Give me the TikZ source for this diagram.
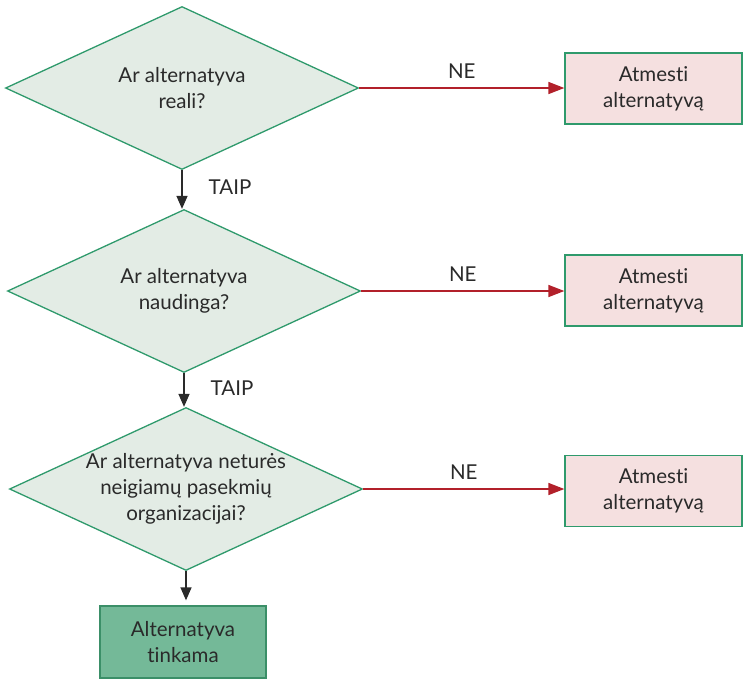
\documentclass[tikz,border=0pt]{standalone}
\usepackage{fontspec}
\setmainfont{Lato}[Ligatures=NoCommon]
\usetikzlibrary{shapes.geometric,arrows.meta}

\definecolor{qfill}{HTML}{E3ECE5}
\definecolor{edgegreen}{HTML}{2F9A6C}
\definecolor{rejfill}{HTML}{F5E0E0}
\definecolor{okfill}{HTML}{74B998}
\definecolor{okedge}{HTML}{3B8F68}
\definecolor{noline}{HTML}{B2202A}
\definecolor{ink}{HTML}{2A2A2A}

\tikzset{
  every node/.style={text=ink, font=\fontsize{20.5}{26}\selectfont},
  decision/.style={diamond, draw=edgegreen, fill=qfill, line width=1.3pt,
    minimum width=353pt, minimum height=163pt, inner sep=0pt, aspect=2.17},
  qtext/.style={align=center},
  reject/.style={rectangle, draw=edgegreen, fill=rejfill, line width=1.3pt,
    minimum width=177pt, minimum height=71pt, align=center, inner sep=0pt},
  accept/.style={rectangle, draw=okedge, fill=okfill, line width=1.3pt,
    minimum width=166pt, minimum height=72pt, align=center, inner sep=0pt},
  yesflow/.style={draw=ink, line width=1.4pt,
    -{Triangle[length=13pt,width=11pt]}},
  noflow/.style={draw=noline, line width=1.6pt,
    -{Triangle[length=16pt,width=12pt]}},
  flowlabel/.style={inner sep=0pt}
}

\begin{document}
\begin{tikzpicture}[x=1pt,y=-1pt]
  \useasboundingbox (0,0) rectangle (743,678);

  % decision diamonds
  \node[decision, label={[qtext]center:Ar alternatyva\\reali?}] (d1) at (182,88) {};
  \node[decision, label={[qtext]center:Ar alternatyva\\naudinga?}] (d2) at (184,291) {};
  \node[decision, label={[qtext]center:Ar alternatyva neturės\\neigiamų pasekmių\\organizacijai?}] (d3) at (186,489) {};

  % rejection boxes
  \node[reject] (r1) at (653.5,88.5) {Atmesti\\alternatyvą};
  \node[reject] (r2) at (653.5,290.5) {Atmesti\\alternatyvą};
  \node[reject] (r3) at (653.5,491) {Atmesti\\alternatyvą};

  % accepted result
  \node[accept] (ok) at (183,642) {Alternatyva\\tinkama};

  % "yes" flow downwards
  \draw[yesflow] (d1.south) -- (d1.south |- d2.north)
    node[flowlabel, pos=0.45, right=26pt] {TAIP};
  \draw[yesflow] (d2.south) -- (d2.south |- d3.north)
    node[flowlabel, pos=0.45, right=26pt] {TAIP};
  \coordinate (okin) at ([yshift=5pt]ok.north);
  \draw[yesflow] (d3.south) -- (d3.south |- okin);

  % "no" branches to the right
  \draw[noflow] (d1.east) -- (d1.east -| r1.west)
    node[flowlabel, midway, above=9pt] {NE};
  \draw[noflow] (d2.east) -- (d2.east -| r2.west)
    node[flowlabel, midway, above=9pt] {NE};
  \draw[noflow] (d3.east) -- (d3.east -| r3.west)
    node[flowlabel, midway, above=9pt] {NE};
\end{tikzpicture}
\end{document}
